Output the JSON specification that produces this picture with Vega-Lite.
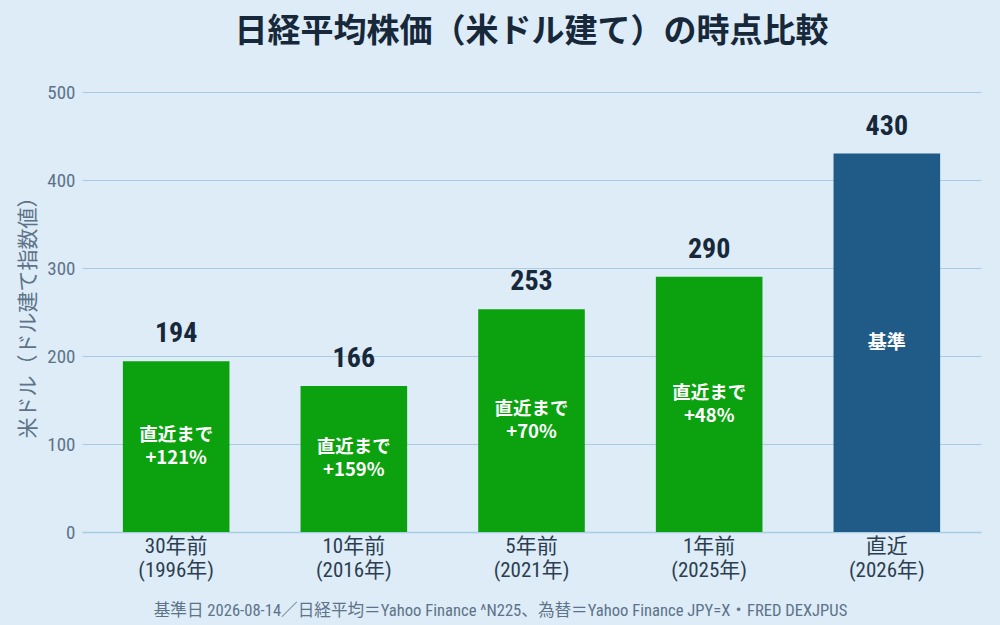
{
  "$schema": "https://vega.github.io/schema/vega-lite/v6.json",
  "autosize": "none",
  "padding": {"left": 82, "top": 92, "right": 19, "bottom": 93},
  "width": 899,
  "height": 440,
  "background": "#ddecf7",
  "title": {
    "text": "日経平均株価（米ドル建て）の時点比較",
    "fontSize": 33,
    "fontWeight": "bold",
    "color": "#16283a",
    "offset": 34,
    "anchor": "middle"
  },
  "data": {
    "values": [
      {"period": "30年前\n(1996年)", "value": 194, "label": "194", "note": "直近まで\n+121%", "kind": "past"},
      {"period": "10年前\n(2016年)", "value": 166, "label": "166", "note": "直近まで\n+159%", "kind": "past"},
      {"period": "5年前\n(2021年)", "value": 253, "label": "253", "note": "直近まで\n+70%", "kind": "past"},
      {"period": "1年前\n(2025年)", "value": 290, "label": "290", "note": "直近まで\n+48%", "kind": "past"},
      {"period": "直近\n(2026年)", "value": 430, "label": "430", "note": "基準", "kind": "latest"}
    ]
  },
  "encoding": {
    "x": {
      "field": "period",
      "type": "nominal",
      "sort": null,
      "scale": {"paddingInner": 0.4, "paddingOuter": 0.23},
      "axis": {
        "title": "基準日 2026-08-14／日経平均＝Yahoo Finance ^N225、為替＝Yahoo Finance JPY=X・FRED DEXJPUS",
        "titleFontSize": 16.6,
        "titleFontWeight": "normal",
        "titleColor": "#5d7389",
        "titleX": 418,
        "titleY": 78,
        "titleAlign": "center",
        "titleBaseline": "middle",
        "labelAngle": 0,
        "labelFontSize": 21,
        "labelColor": "#2c3e50",
        "labelLineHeight": 24,
        "labelPadding": 3,
        "labelExpr": "split(datum.label, '\\n')",
        "ticks": false,
        "domainColor": "#a8cce4",
        "domainWidth": 1.5
      }
    }
  },
  "layer": [
    {
      "mark": {"type": "bar"},
      "encoding": {
        "y": {
          "field": "value",
          "type": "quantitative",
          "scale": {"domain": [0, 500]},
          "axis": {
            "title": "米ドル（ドル建て指数値）",
            "titleFontSize": 21,
            "titleFontWeight": "normal",
            "titleColor": "#5d7389",
            "titleX": -54,
            "titleY": 220,
            "titleBaseline": "middle",
            "values": [0, 100, 200, 300, 400, 500],
            "labelFontSize": 19,
            "labelColor": "#5d7389",
            "labelPadding": 7,
            "ticks": false,
            "domain": false,
            "gridColor": "#a8cce4",
            "gridWidth": 1.2
          }
        },
        "color": {
          "field": "kind",
          "type": "nominal",
          "scale": {"domain": ["past", "latest"], "range": ["#0ca10f", "#1f5b86"]},
          "legend": null
        }
      }
    },
    {
      "mark": {"type": "text", "dy": -27, "fontSize": 28, "fontWeight": "bold", "color": "#16283a", "baseline": "middle"},
      "encoding": {
        "y": {"field": "value", "type": "quantitative"},
        "text": {"field": "label"}
      }
    },
    {
      "transform": [
        {"filter": "datum.kind === 'past'"},
        {"calculate": "datum.value / 2", "as": "mid"}
      ],
      "mark": {"type": "text", "font": "Noto Sans CJK JP", "fontSize": 18.5, "fontWeight": "bold", "color": "#ffffff", "baseline": "middle", "lineBreak": "\n", "lineHeight": 23, "dy": -11.5},
      "encoding": {
        "y": {"field": "mid", "type": "quantitative"},
        "text": {"field": "note"}
      }
    },
    {
      "transform": [
        {"filter": "datum.kind === 'latest'"},
        {"calculate": "datum.value / 2", "as": "mid"}
      ],
      "mark": {"type": "text", "font": "Noto Sans CJK JP", "fontSize": 19, "fontWeight": "bold", "color": "#ffffff", "baseline": "middle"},
      "encoding": {
        "y": {"field": "mid", "type": "quantitative"},
        "text": {"field": "note"}
      }
    }
  ],
  "config": {
    "font": "Roboto Condensed, Liberation Sans Narrow, DejaVu Sans Condensed, Noto Sans CJK JP",
    "view": {"stroke": null}
  }
}
